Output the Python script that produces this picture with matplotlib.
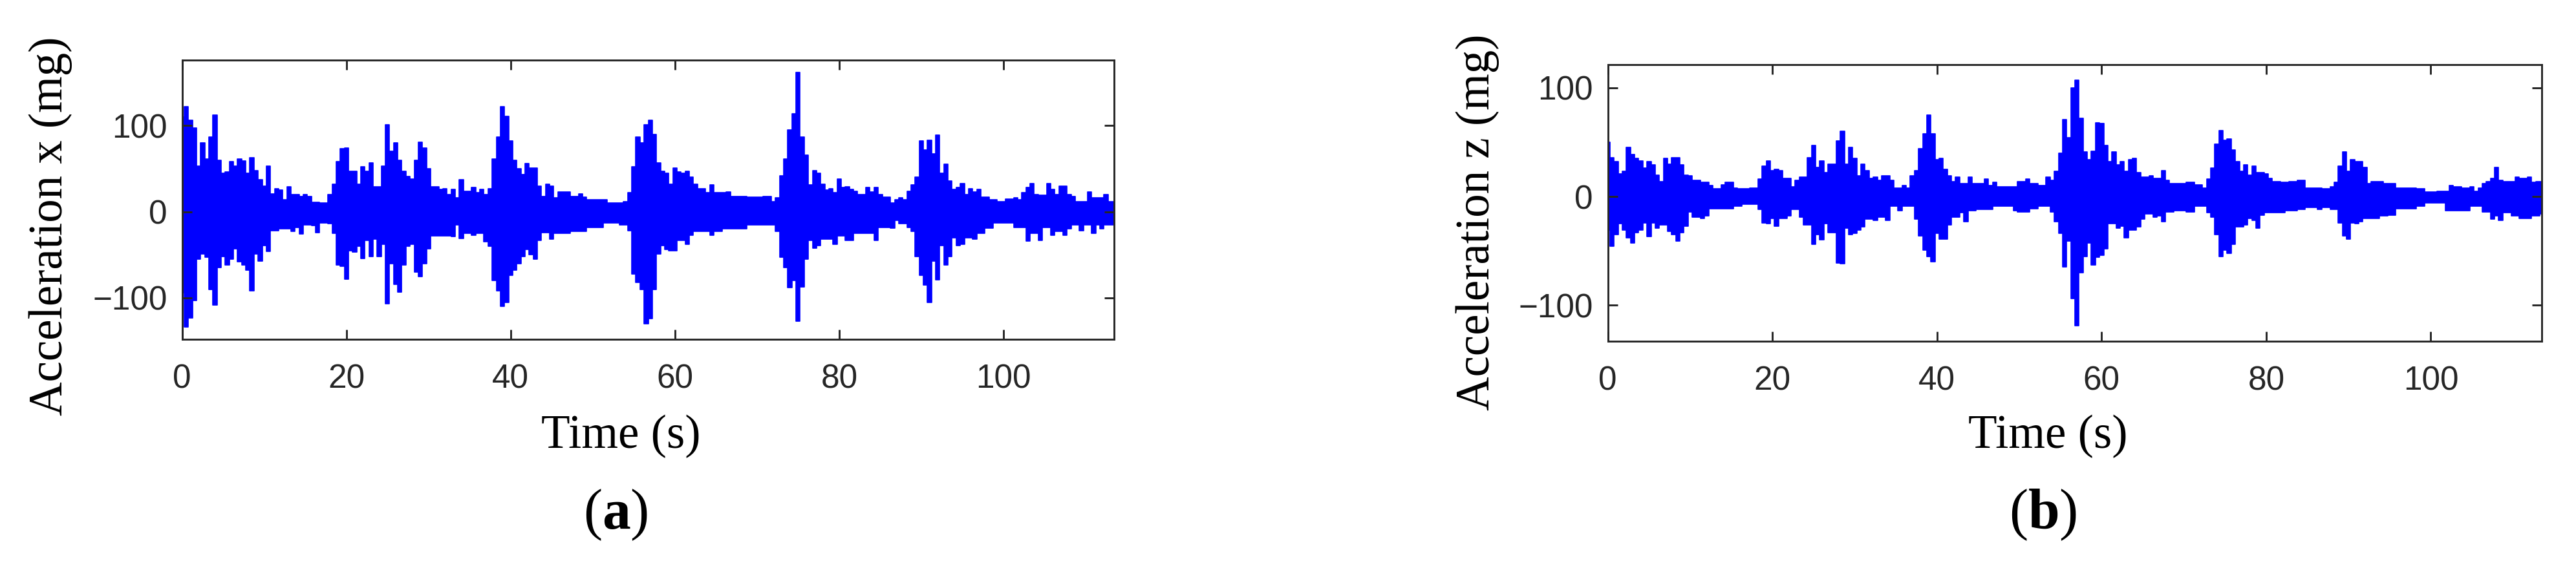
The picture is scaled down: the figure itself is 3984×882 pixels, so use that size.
import numpy as np
import matplotlib
matplotlib.use("Agg")
import matplotlib.pyplot as plt

plt.rcParams['mathtext.fontset'] = 'custom'
plt.rcParams['mathtext.rm'] = 'Liberation Serif'
plt.rcParams['mathtext.bf'] = 'Liberation Serif:bold'

# ---------------- data (envelope peaks, every 0.5 s) ----------------
t_step = 0.5  # s

ax_upper = [
    110, 122, 106, 97, 53, 80, 61, 87, 112, 60,
    45, 46, 58, 53, 61, 59, 45, 63, 48, 37,
    30, 53, 21, 27, 25, 14, 29, 20, 20, 18,
    20, 18, 11, 11, 10, 10, 20, 32, 58, 73,
    74, 47, 47, 32, 52, 47, 57, 29, 29, 53,
    101, 70, 80, 60, 47, 41, 38, 60, 81, 74,
    50, 29, 29, 26, 27, 20, 26, 16, 37, 24,
    24, 28, 22, 26, 20, 27, 61, 87, 122, 111,
    82, 60, 50, 43, 56, 51, 51, 30, 18, 32,
    30, 16, 23, 23, 23, 18, 18, 21, 17, 14,
    14, 14, 14, 14, 10, 10, 10, 10, 12, 22,
    52, 87, 80, 101, 106, 90, 57, 47, 45, 32,
    51, 46, 45, 47, 40, 32, 27, 27, 22, 31,
    22, 22, 22, 23, 18, 18, 18, 18, 17, 17,
    17, 17, 18, 18, 12, 16, 42, 61, 95, 114,
    162, 87, 66, 31, 48, 45, 32, 25, 27, 22,
    38, 28, 29, 26, 24, 20, 20, 28, 23, 28,
    20, 17, 17, 10, 14, 16, 14, 24, 31, 40,
    82, 72, 83, 67, 89, 45, 55, 36, 26, 28,
    33, 20, 27, 23, 26, 17, 17, 14, 14, 12,
    12, 15, 15, 16, 14, 22, 28, 33, 20, 19,
    19, 33, 26, 20, 30, 30, 20, 18, 12, 12,
    12, 23, 16, 16, 16, 20, 12, 12,
]
ax_lower = [
    -94, -134, -123, -103, -55, -49, -53, -90, -108, -65,
    -52, -62, -55, -43, -58, -62, -68, -92, -49, -57,
    -39, -46, -22, -22, -20, -20, -20, -23, -18, -26,
    -15, -15, -16, -24, -13, -13, -14, -25, -62, -63,
    -78, -45, -47, -40, -54, -33, -52, -32, -52, -38,
    -107, -60, -84, -93, -62, -40, -38, -70, -75, -60,
    -43, -28, -28, -28, -28, -28, -29, -15, -31, -25,
    -25, -27, -25, -25, -35, -40, -80, -92, -110, -105,
    -74, -68, -60, -52, -44, -50, -55, -33, -24, -24,
    -32, -25, -25, -25, -25, -23, -23, -23, -23, -18,
    -18, -18, -18, -13, -13, -13, -13, -15, -15, -22,
    -72, -82, -90, -130, -124, -90, -49, -39, -44, -45,
    -45, -33, -33, -38, -27, -23, -23, -23, -23, -27,
    -23, -23, -20, -20, -20, -20, -20, -20, -15, -15,
    -15, -15, -15, -15, -15, -23, -53, -65, -88, -80,
    -127, -87, -55, -33, -42, -39, -32, -32, -32, -38,
    -28, -28, -33, -33, -25, -25, -25, -25, -25, -33,
    -18, -18, -18, -19, -10, -14, -14, -18, -23, -52,
    -74, -85, -105, -57, -79, -39, -62, -52, -30, -39,
    -38, -30, -30, -32, -25, -25, -19, -19, -13, -13,
    -13, -13, -13, -18, -18, -18, -34, -25, -25, -33,
    -18, -18, -27, -23, -23, -27, -20, -15, -15, -22,
    -15, -15, -25, -15, -20, -15, -15, -15,
]
az_upper = [
    50, 36, 32, 21, 23, 45, 39, 35, 33, 26,
    32, 29, 20, 14, 35, 30, 36, 36, 29, 20,
    19, 15, 15, 13, 13, 10, 7, 7, 11, 13,
    13, 8, 7, 7, 7, 8, 8, 16, 28, 33,
    24, 25, 24, 17, 17, 9, 15, 18, 18, 36,
    47, 27, 33, 22, 30, 30, 51, 60, 30, 45,
    35, 19, 30, 24, 17, 18, 15, 19, 19, 15,
    8, 8, 10, 8, 19, 24, 44, 58, 75, 58,
    34, 35, 25, 19, 14, 18, 12, 12, 18, 12,
    12, 12, 16, 10, 13, 9, 9, 9, 9, 9,
    14, 14, 16, 12, 12, 10, 10, 18, 15, 23,
    40, 71, 54, 100, 107, 72, 41, 34, 42, 68,
    67, 47, 32, 41, 29, 32, 23, 34, 35, 22,
    18, 18, 19, 17, 17, 24, 15, 12, 12, 12,
    12, 13, 13, 11, 11, 8, 16, 26, 48, 61,
    52, 53, 43, 32, 23, 29, 20, 28, 22, 22,
    21, 17, 14, 14, 13, 13, 14, 14, 15, 15,
    8, 8, 8, 8, 7, 7, 9, 13, 28, 41,
    23, 34, 32, 32, 27, 12, 14, 14, 14, 12,
    12, 12, 8, 8, 8, 8, 8, 7, 7, 4,
    4, 4, 5, 5, 5, 10, 9, 9, 8, 8,
    9, 5, 8, 12, 14, 17, 27, 15, 14, 14,
    14, 18, 17, 17, 18, 13, 14, 14,
]
az_lower = [
    -31, -46, -35, -25, -31, -38, -43, -33, -31, -24,
    -37, -24, -29, -26, -26, -32, -35, -41, -33, -27,
    -14, -19, -19, -20, -18, -11, -11, -11, -11, -11,
    -11, -9, -9, -7, -7, -7, -7, -12, -24, -25,
    -20, -27, -20, -20, -18, -12, -12, -19, -26, -26,
    -44, -35, -40, -25, -33, -33, -61, -62, -29, -35,
    -34, -31, -28, -21, -21, -22, -19, -19, -22, -9,
    -9, -13, -9, -9, -9, -21, -36, -49, -55, -60,
    -34, -39, -39, -26, -19, -19, -15, -23, -13, -13,
    -12, -12, -12, -12, -9, -9, -9, -9, -9, -13,
    -14, -14, -14, -11, -11, -9, -9, -9, -14, -23,
    -34, -65, -41, -94, -119, -70, -55, -43, -63, -56,
    -54, -48, -25, -25, -29, -27, -38, -31, -31, -28,
    -21, -16, -16, -19, -18, -23, -14, -14, -13, -13,
    -13, -14, -14, -9, -9, -9, -15, -19, -35, -55,
    -49, -52, -44, -28, -28, -26, -20, -22, -29, -17,
    -15, -15, -15, -15, -15, -13, -13, -13, -12, -12,
    -10, -10, -10, -12, -10, -10, -12, -12, -24, -36,
    -39, -24, -25, -23, -20, -20, -20, -20, -18, -18,
    -17, -17, -11, -11, -11, -11, -11, -9, -9, -6,
    -6, -6, -6, -6, -13, -13, -13, -13, -13, -13,
    -9, -9, -9, -14, -14, -21, -18, -22, -15, -15,
    -18, -18, -20, -20, -20, -18, -18, -16,
]

x_ticks = [0, 20, 40, 60, 80, 100]
y_ticks = [-100, 0, 100]
x_label = "Time (s)"
y_labels = ["Acceleration x (mg)", "Acceleration z (mg)"]
panel_tags = ["a", "b"]

# ---------------- figure ----------------
W, H, DPI = 3984, 882, 300
fig = plt.figure(figsize=(W / DPI, H / DPI), dpi=DPI)

axis_col = "#262626"
tick_font = "Liberation Sans"
label_font = "Liberation Serif"

panels = [
    dict(rect=[0.07071, 0.40476, 0.36185, 0.48946], up=ax_upper, lo=ax_lower,
         ylim=(-148, 175.75), ylab=y_labels[0], ylab_xy=(0.0196, 0.604),
         xlab_xy=(0.241, 0.2143), tag_xy=(0.239, 0.0725)),
    dict(rect=[0.62417, 0.40102, 0.36260, 0.48560], up=az_upper, lo=az_lower,
         ylim=(-133.3, 121.4), ylab=y_labels[1], ylab_xy=(0.5735, 0.6105),
         xlab_xy=(0.795, 0.2143), tag_xy=(0.793, 0.0725)),
]

for p, tag in zip(panels, panel_tags):
    ax = fig.add_axes(p["rect"])
    up = np.array(p["up"], dtype=float)
    lo = np.array(p["lo"], dtype=float)
    t = np.arange(len(up)) * t_step
    ax.fill_between(t, lo, up, step="mid", color=(0, 0, 1), linewidth=0.4,
                    edgecolor=(0, 0, 1))
    ax.set_xlim(0, 113.5)
    ax.set_ylim(*p["ylim"])
    ax.set_xticks(x_ticks)
    ax.set_yticks(y_ticks)
    for s in ax.spines.values():
        s.set_color(axis_col)
        s.set_linewidth(0.7)
    ax.tick_params(axis="both", direction="in", top=True, right=True,
                   length=3.6, width=0.7, color=axis_col, labelcolor=axis_col,
                   labelsize=12.3)
    ax.tick_params(axis="x", pad=9.0)
    ax.tick_params(axis="y", pad=5.5)
    for lab in ax.get_xticklabels() + ax.get_yticklabels():
        lab.set_fontfamily(tick_font)
    fig.text(p["xlab_xy"][0], p["xlab_xy"][1], x_label, ha="center", va="baseline",
             fontsize=17.5, family=label_font, color="black")
    fig.text(p["ylab_xy"][0], p["ylab_xy"][1], p["ylab"], ha="center", va="center",
             rotation=90, fontsize=17.5, family=label_font, color="black")
    fig.text(p["tag_xy"][0], p["tag_xy"][1], "(" + r"$\mathbf{" + tag + "}$" + ")",
             ha="center", va="baseline", fontsize=21, family=label_font, color="black")

fig.savefig("out.png", dpi=DPI, facecolor="white")
